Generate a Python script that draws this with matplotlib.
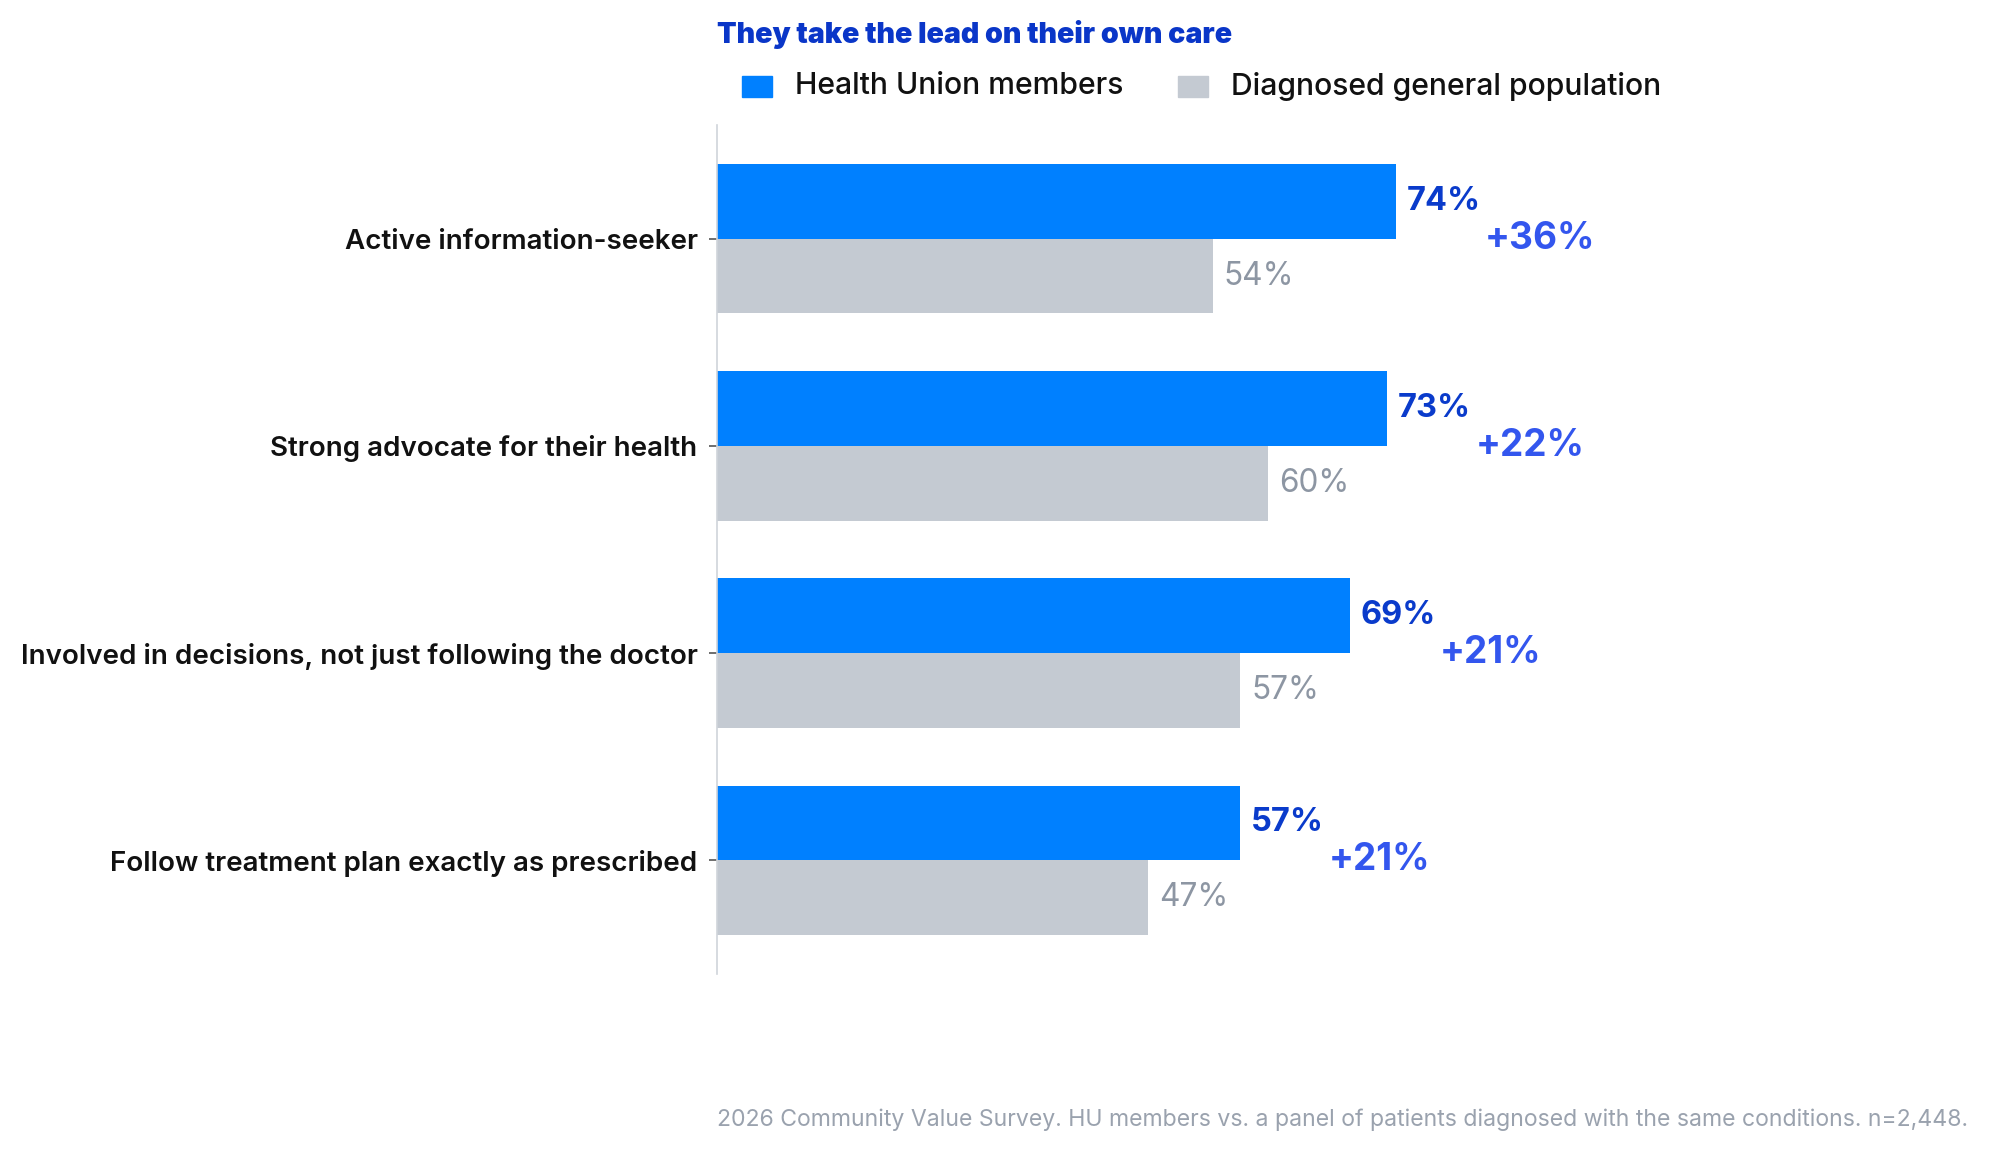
import matplotlib
matplotlib.use("Agg")
import matplotlib.pyplot as plt
from matplotlib.patches import Rectangle

plt.rcParams['font.family'] = ['Inter', 'DejaVu Sans']

categories = ["Active information-seeker",
              "Strong advocate for their health",
              "Involved in decisions, not just following the doctor",
              "Follow treatment plan exactly as prescribed"]
hu_values = [74, 73, 69, 57]
gen_values = [54, 60, 57, 47]
diff_labels = ["+36%", "+22%", "+21%", "+21%"]
series_names = ["Health Union members", "Diagnosed general population"]

HU_COLOR = "#0080FF"
GEN_COLOR = "#C4CAD2"
HU_TEXT = "#0A3BCB"
DIFF_TEXT = "#3356EE"
GEN_TEXT = "#8D96A3"
TITLE_COLOR = "#0A36C8"
FOOT_COLOR = "#9AA2AE"

W, H = 1993, 1151
fig = plt.figure(figsize=(W / 100, H / 100), dpi=100)
ax = fig.add_axes([717 / W, 1 - 974 / H, 918 / W, (974 - 125) / H])

bh = 0.36
y = list(range(len(categories)))
ax.barh([v - bh / 2 for v in y], hu_values, height=bh, color=HU_COLOR)
ax.barh([v + bh / 2 for v in y], gen_values, height=bh, color=GEN_COLOR)

for i in y:
    ax.annotate(f"{hu_values[i]}%", (hu_values[i], i - bh / 2), xytext=(7.5, 0),
                textcoords="offset points", va="center", ha="left",
                fontsize=23.4, fontweight="bold", color=HU_TEXT)
    ax.annotate(f"{gen_values[i]}%", (gen_values[i], i + bh / 2), xytext=(8, 0),
                textcoords="offset points", va="center", ha="left",
                fontsize=22.7, color=GEN_TEXT)
    ax.annotate(diff_labels[i], (hu_values[i], i), xytext=(64, 0),
                textcoords="offset points", va="center", ha="left",
                fontsize=26.6, fontweight="bold", color=DIFF_TEXT)

ax.set_xlim(0, 100)
ax.set_ylim(3.55, -0.55)
ax.set_yticks(y)
ax.set_yticklabels(categories, fontsize=20, fontweight="semibold", color="#111111")
ax.set_xticks([])
for s in ["top", "right", "bottom"]:
    ax.spines[s].set_visible(False)
ax.spines["left"].set_color("#D0D4DA")
ax.spines["left"].set_linewidth(1.2)
ax.tick_params(axis="y", length=6, width=1.2, color="#555555", pad=8)

fig.text(717 / W, 1 - 34.5 / H, "They take the lead on their own care",
         fontsize=20.6, fontweight="black", color=TITLE_COLOR, ha="left", va="center")

# legend
ly = 1 - 86.5 / H
sq = 20
fig.patches.append(Rectangle((742 / W, ly - sq / 2 / H), 30 / W, sq / H,
                             transform=fig.transFigure, color=HU_COLOR))
fig.text(795 / W, ly, series_names[0], fontsize=21.7, fontweight="medium",
         color="#111111", ha="left", va="center")
fig.patches.append(Rectangle((1178 / W, ly - sq / 2 / H), 30 / W, sq / H,
                             transform=fig.transFigure, color=GEN_COLOR))
fig.text(1231 / W, ly, series_names[1], fontsize=21.7, fontweight="medium",
         color="#111111", ha="left", va="center")

fig.text(717 / W, 1 - 1120 / H,
         "2026 Community Value Survey. HU members vs. a panel of patients diagnosed with the same conditions. n=2,448.",
         fontsize=16.6, color=FOOT_COLOR, ha="left", va="center")

fig.savefig("out.png", dpi=100, facecolor="white")
